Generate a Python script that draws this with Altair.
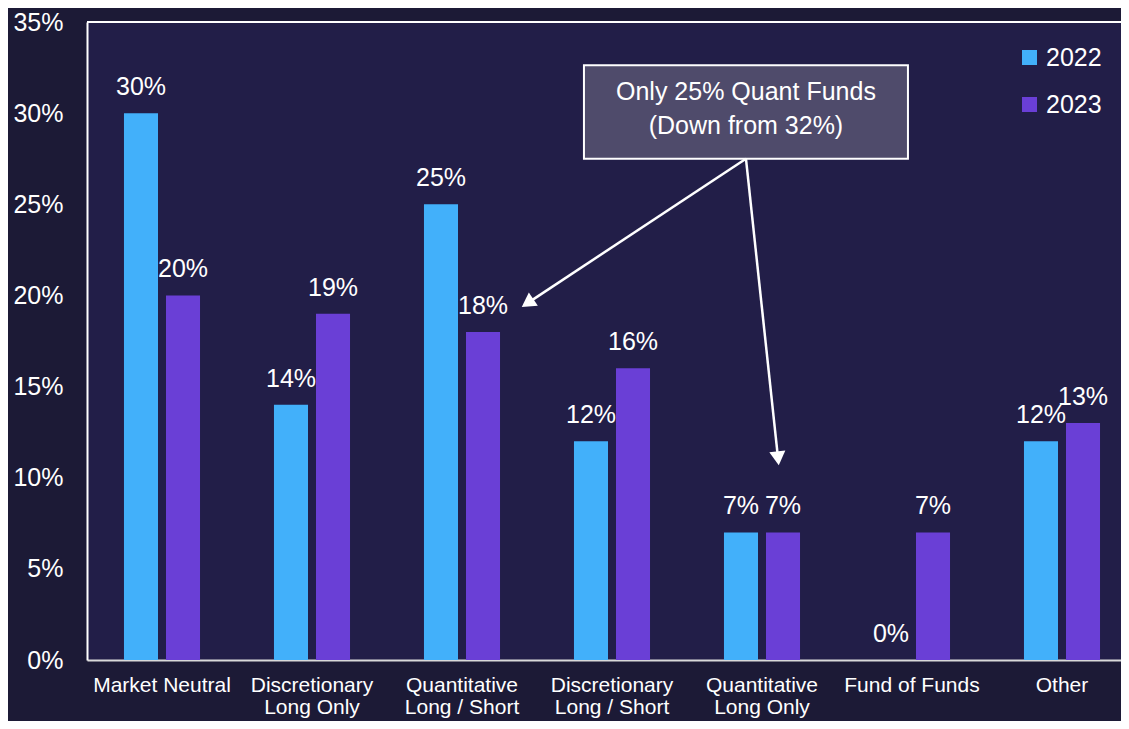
import altair as alt
import pandas as pd

categories = ["Market Neutral", "Discretionary|Long Only", "Quantitative|Long / Short",
              "Discretionary|Long / Short", "Quantitative|Long Only", "Fund of Funds", "Other"]
years = ["2022", "2023"]
values_2022 = [30, 14, 25, 12, 7, 0, 12]
values_2023 = [20, 19, 18, 16, 7, 7, 13]
y_ticks = [0, 5, 10, 15, 20, 25, 30, 35]

# annotation (category-index units on x, percent on y)
note_text = ["Only 25% Quant Funds\n(Down from 32%)"]
box_x = [3.313, 5.473]
box_y = [27.50, 32.63]
note_y = 31.17
arrow_start = [4.393, 27.50]
arrow_end_x = [2.937, 4.607]
arrow_end_y = [19.58, 11.06]
arrow_angle = [236, 174]

FONT = "Liberation Sans"
BLUE = "#42b0fa"
PURPLE = "#6a3fd6"

rows = []
for c, a, b in zip(categories, values_2022, values_2023):
    rows.append({"cat": c, "year": "2022", "val": a})
    rows.append({"cat": c, "year": "2023", "val": b})
df = pd.DataFrame(rows)

x_enc = alt.X("cat:N", sort=categories,
              scale=alt.Scale(paddingInner=0, paddingOuter=0),
              axis=alt.Axis(title=None, labelAngle=0, labelExpr="split(datum.label, '|')",
                            labelFontSize=21, labelColor="white", labelFont=FONT,
                            labelPadding=14, labelLineHeight=22, ticks=False,
                            domainColor="#d9d9d9", domainWidth=2))
xoff_enc = alt.XOffset("year:N", scale=alt.Scale(paddingInner=0.19, paddingOuter=0.88))
y_enc = alt.Y("val:Q", scale=alt.Scale(domain=[0, 35], nice=False),
              axis=alt.Axis(title=None, values=y_ticks, labelExpr="datum.value + '%'",
                            grid=False, ticks=False, domain=True, domainColor="white",
                            domainWidth=2, labelFontSize=25, labelColor="white",
                            labelFont=FONT, labelPadding=24))

bars = alt.Chart(df).mark_bar(strokeWidth=0).encode(
    x=x_enc, xOffset=xoff_enc, y=y_enc,
    color=alt.Color("year:N", scale=alt.Scale(domain=years, range=[BLUE, PURPLE]),
                    legend=alt.Legend(title=None, orient="none", legendX=930, legendY=23,
                                      symbolType="square", symbolSize=225,
                                      symbolStrokeWidth=0, labelFontSize=25,
                                      labelColor="white", labelFont=FONT,
                                      rowPadding=21, labelOffset=4)),
)

labels = alt.Chart(df).mark_text(dy=-18, baseline="alphabetic", fontSize=25,
                                 color="white", font=FONT).encode(
    x=alt.X("cat:N", sort=categories), xOffset="year:N", y="val:Q",
    text=alt.Text("label:N"),
).transform_calculate(label="datum.val + '%'")

top_rule = alt.Chart(pd.DataFrame({"v": [35]})).mark_rule(color="white", strokeWidth=2).encode(
    y="v:Q")

main = alt.layer(bars, labels, top_rule)

xq = alt.Scale(domain=[0, 7])
box_df = pd.DataFrame({"x": [box_x[0]], "x2": [box_x[1]], "y": [box_y[0]], "y2": [box_y[1]],
                       "t": note_text, "xc": [(box_x[0] + box_x[1]) / 2],
                       "yc": [note_y]})
box = alt.Chart(box_df).mark_rect(fill="#4f4b6b", stroke="white", strokeWidth=2).encode(
    x=alt.X("x:Q", scale=xq, axis=None), x2="x2:Q", y="y:Q", y2="y2:Q")
box_text = alt.Chart(box_df).mark_text(fontSize=25, color="white", font=FONT,
                                       lineBreak="\n", lineHeight=34,
                                       baseline="middle", align="center").encode(
    x=alt.X("xc:Q", scale=xq, axis=None), y="yc:Q", text="t:N")

arr_df = pd.DataFrame({"x": [arrow_start[0]] * 2, "y": [arrow_start[1]] * 2,
                       "x2": arrow_end_x, "y2": arrow_end_y, "ang": arrow_angle})
arr_lines = alt.Chart(arr_df).mark_rule(color="white", strokeWidth=2.5).encode(
    x=alt.X("x:Q", scale=xq, axis=None), y="y:Q", x2="x2:Q", y2="y2:Q")
arr_heads = alt.Chart(arr_df).mark_point(shape="triangle-up", filled=True, color="white",
                                         opacity=1, size=260).encode(
    x=alt.X("x2:Q", scale=xq, axis=None), y="y2:Q",
    angle=alt.Angle("ang:Q", scale=None))

annot = alt.layer(box, box_text, arr_lines, arr_heads)

chart = alt.layer(main, annot).resolve_scale(x="independent").properties(
    width=1050, height=638,
    background="#1c1a36",
    autosize=alt.AutoSizeParams(type="none"),
    padding={"left": 79, "top": 14, "right": -16, "bottom": 61},
).configure_view(fill="#221e48", stroke=None)

chart.save("out.html", embed_options={"renderer": "svg", "actions": False})
